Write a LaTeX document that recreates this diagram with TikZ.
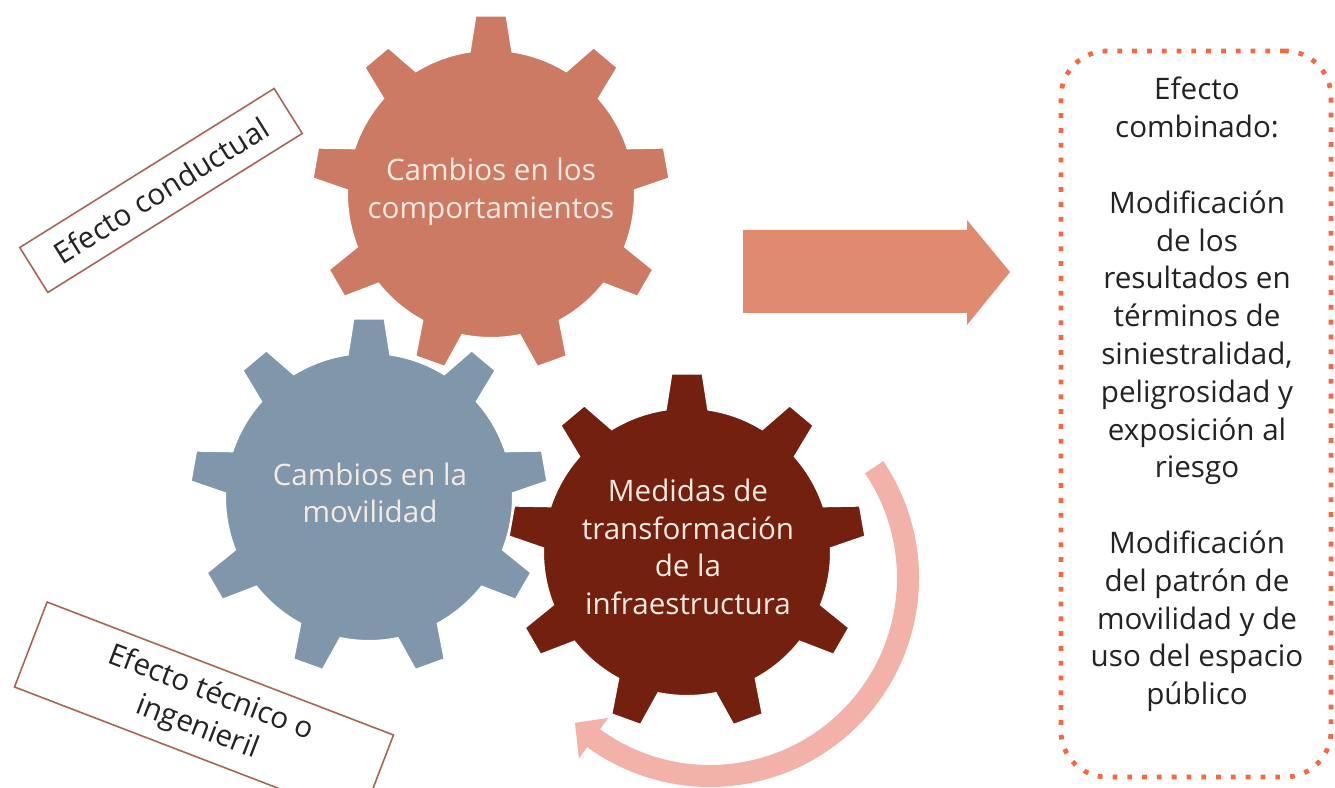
\documentclass[tikz,border=0pt]{standalone}
\usepackage{fontspec}
\setmainfont{Open Sans}
\usetikzlibrary{positioning}
\definecolor{gearsalmon}{RGB}{204,122,99}
\definecolor{gearblue}{RGB}{127,150,171}
\definecolor{gearbrown}{RGB}{116,32,14}
\definecolor{arrowsalmon}{RGB}{224,139,112}
\definecolor{arrowpink}{RGB}{242,178,170}
\definecolor{dotorange}{RGB}{245,104,66}
\definecolor{tagbrown}{RGB}{168,100,84}
\definecolor{geartext}{RGB}{245,234,226}
\definecolor{bodytext}{RGB}{35,35,35}
\tikzset{
  geartxt/.style={text=geartext, align=center, font=\fontsize{14.8}{18.9}\selectfont},
  tagbox/.style={draw=tagbrown, line width=0.8pt, fill=white, align=center, text=bodytext,
    inner sep=0pt, font=\fontsize{14.8}{18.5}\selectfont},
  effframe/.style={draw=dotorange, line width=2.4pt, dash pattern=on 2.4pt off 5pt,
    rounded corners=23pt, minimum width=135pt, minimum height=363pt},
  efftxt/.style={text=bodytext, align=center, font=\fontsize{14.8}{18.9}\selectfont}
}
% one gear with 9 teeth: #1 centre, #2 colour
\newcommand{\gear}[2]{%
  \fill[#2, draw=white, line width=1pt, shift={#1}] (81.5:144)
    \foreach \a in {90,130,...,410} {
      -- ({\a-5}:179) -- ({\a+5}:179) -- ({\a+8.5}:144)
      arc[start angle={\a+8.5}, delta angle=23, radius=144]
    } -- cycle;}
\begin{document}
\begin{tikzpicture}[x=0.5pt, y=0.5pt]
\clip (0,0) rectangle (1335,788);
\fill[white] (0,0) rectangle (1335,788);
\coordinate (g1) at (491,594);
\coordinate (g2) at (369,291);
\coordinate (g3) at (687,236);
\coordinate (ring) at (710,210);
% gears
\gear{(g2)}{gearblue}
\gear{(g3)}{gearbrown}
\gear{(g1)}{gearsalmon}
\node[geartxt] (behaviour) at (491,596) {Cambios en los\\comportamientos};
\node[geartxt] (mobility) at (370,295) {Cambios en la\\movilidad};
\node[geartxt] (measures) at (688,241) {Medidas de\\transformación\\de la\\infraestructura};
% circular arrow round the third gear
\begin{scope}[shift={(ring)}]
\fill[arrowpink] (34:209) arc[start angle=34, end angle=-126, radius=209]
  -- (-126:223) -- (-133:198) -- (-126:173) -- (-126:187)
  arc[start angle=-126, end angle=34, radius=187] -- cycle;
\end{scope}
% block arrow
\fill[arrowsalmon] (743,558) -- (967,558) -- (967,568) -- (1010,516)
  -- (967,463) -- (967,475) -- (743,475) -- cycle;
% tags
\node[tagbox, minimum width=150pt, minimum height=26.5pt, rotate=32] (behavtag) at (161,597.5) {Efecto conductual};
\node[tagbox, minimum width=185.5pt, minimum height=45.5pt, rotate=-21] (techtag) at (204,77) {Efecto técnico o\\ingenieril};
% combined effect
\node[effframe] (effbox) at (1196,374) {};
\node[efftxt] (efftext) at (1197,393.5) {Efecto\\combinado:\\[18.9pt]Modificación\\de los\\resultados en\\términos de\\siniestralidad,\\peligrosidad y\\exposición al\\riesgo\\[18.9pt]Modificación\\del patrón de\\movilidad y de\\uso del espacio\\público};
\end{tikzpicture}
\end{document}
